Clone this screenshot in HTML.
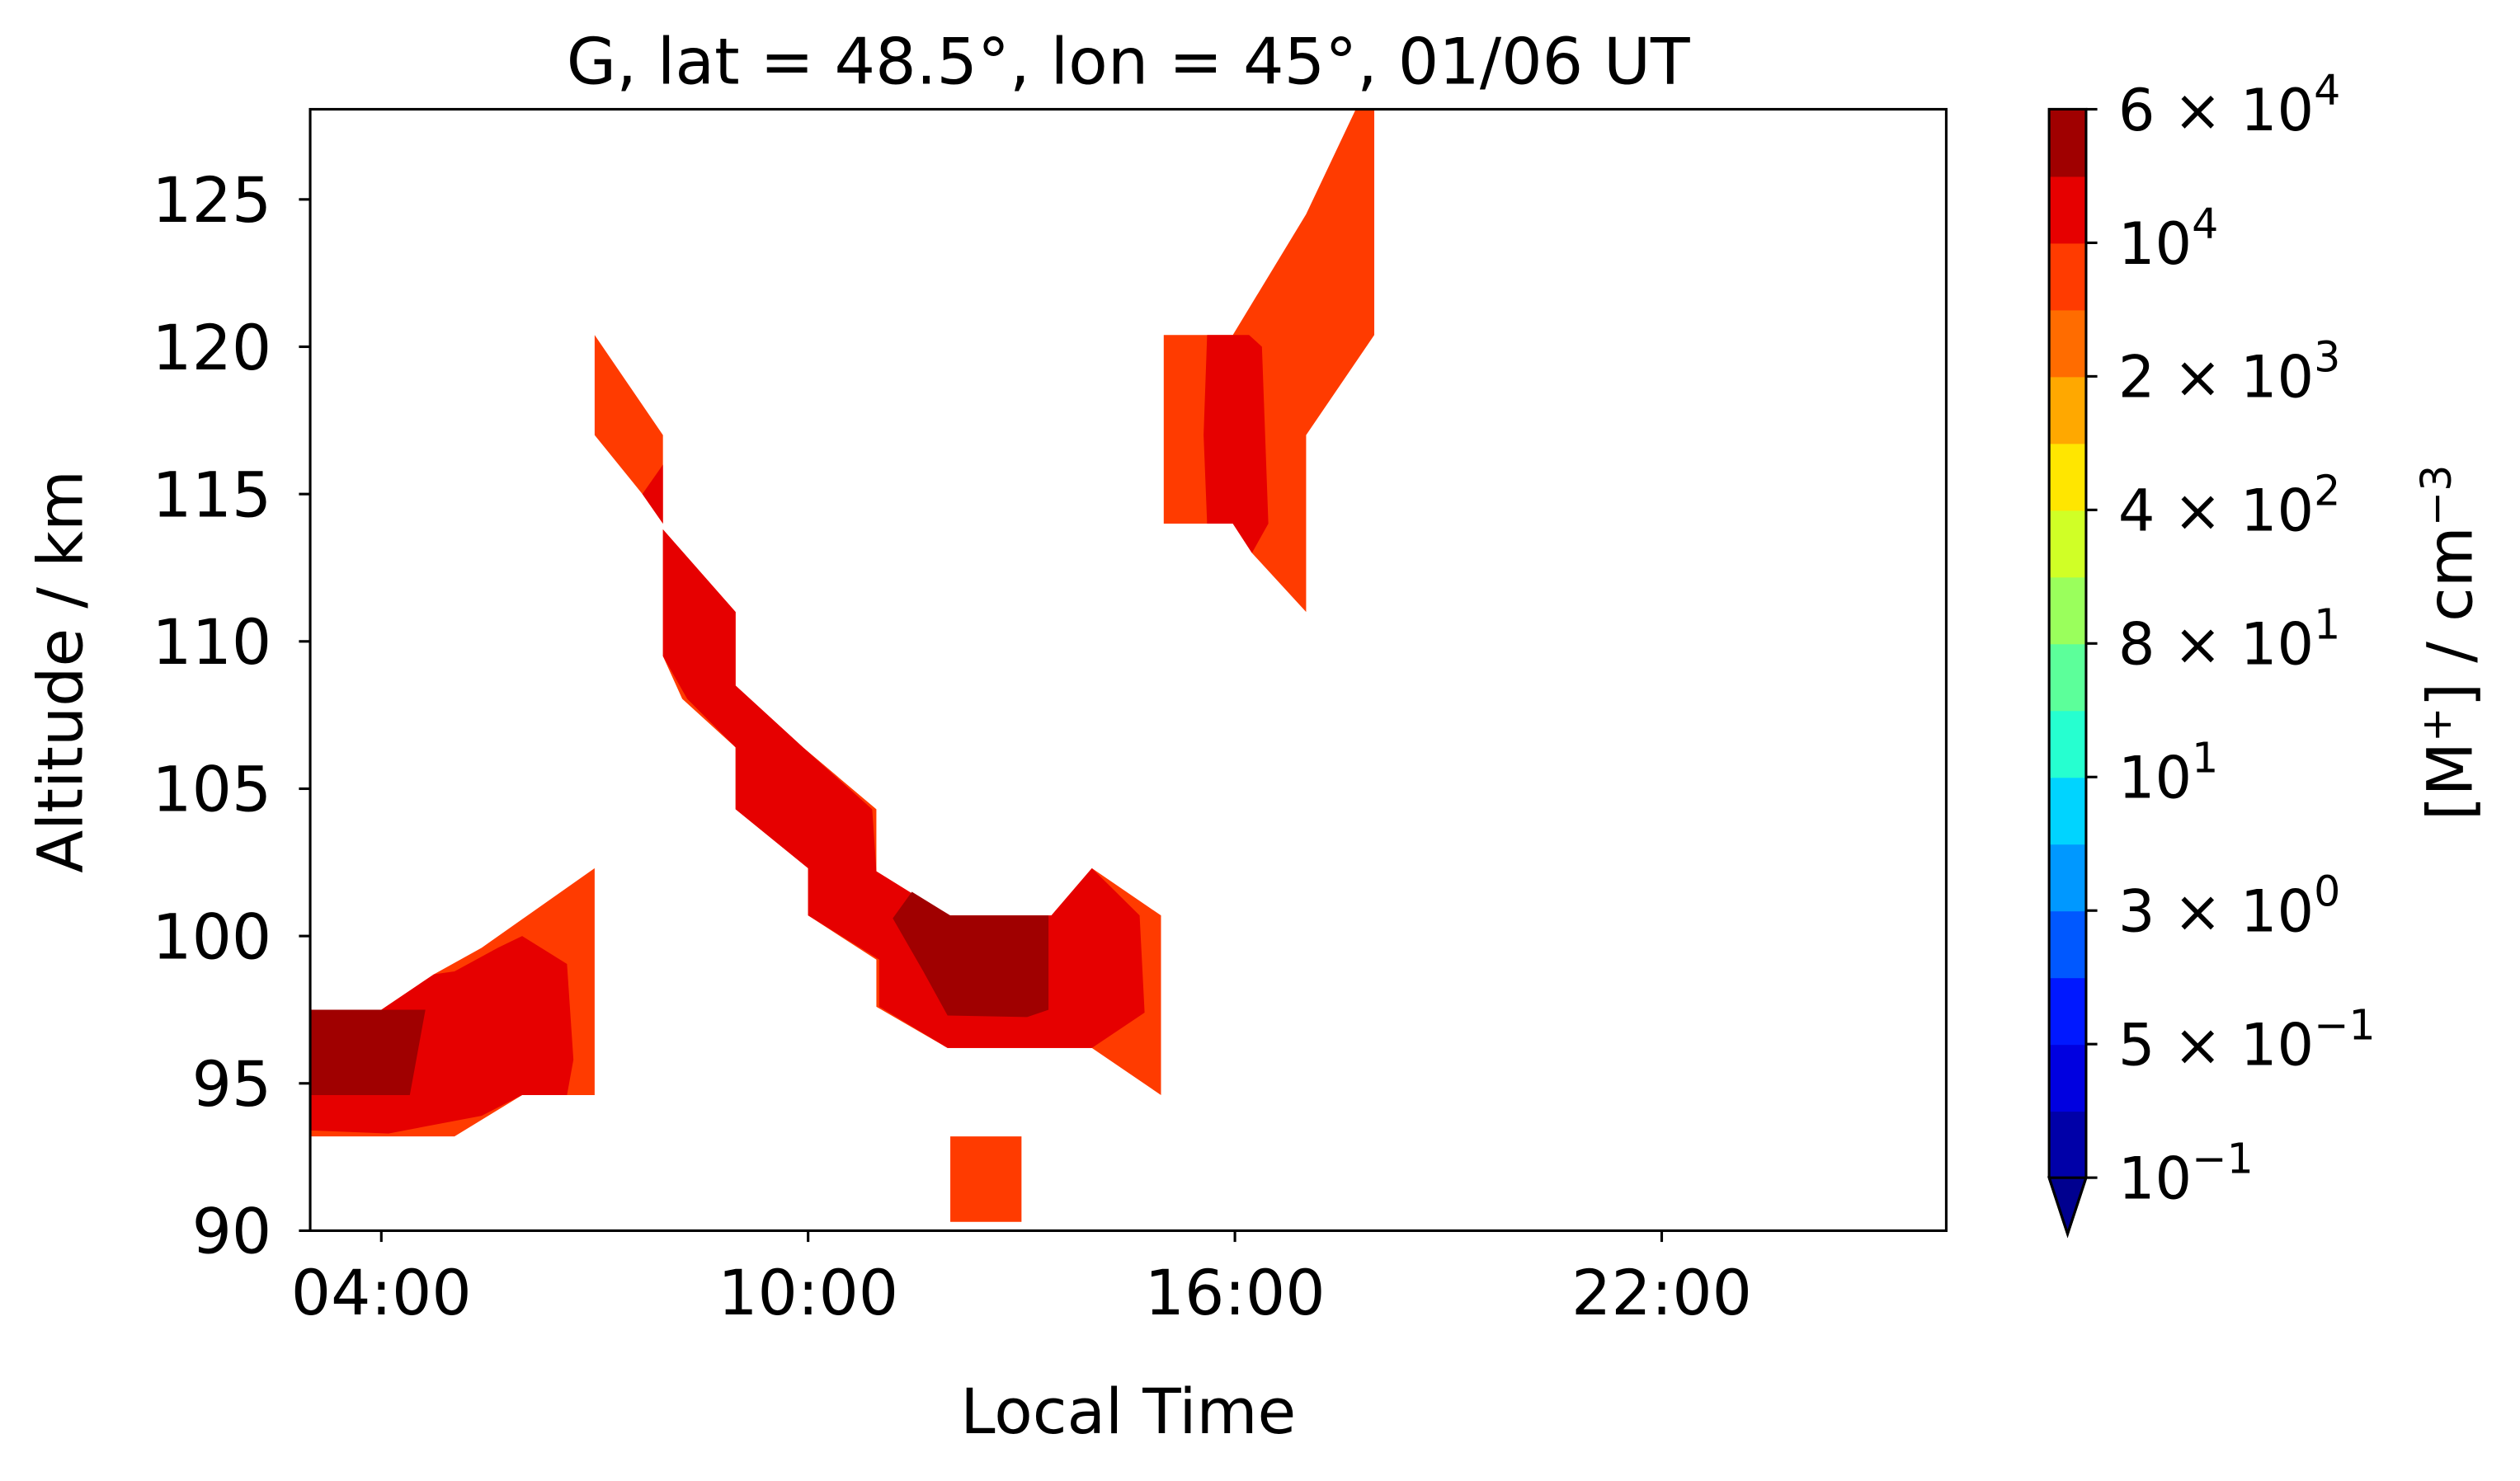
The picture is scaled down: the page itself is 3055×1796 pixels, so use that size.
<!DOCTYPE html>
<html><head><meta charset="utf-8"><style>html,body{margin:0;padding:0;background:#fff}svg{display:block}text{font-family:"DejaVu Sans","Liberation Sans",sans-serif;fill:#000}</style></head>
<body>
<svg id="chart" width="3055" height="1796" viewBox="0 0 1568 921.8" preserveAspectRatio="none" xmlns="http://www.w3.org/2000/svg">
<g id="plot"></g>
<g id="axes"></g>
<g id="cbar"></g>
</svg>
<script>
const xTicks = [4, 10, 16, 22];
const xTickLabels = ["04:00", "10:00", "16:00", "22:00"];
const yTicks = [90, 95, 100, 105, 110, 115, 120, 125];
const levelColors = ["#a00000", "#e60000", "#ff3b00"];
// contour polygons [hour, km]
const orangePolys = [
  [[3,97.5],[4,97.5],[4.74,98.7],[5.41,99.6],[7,102.3],[7,94.6],[5.98,94.6],[5.03,93.2],[3,93.2]],
  [[7,120.4],[7.96,117],[7.96,114],[7.67,115],[7,117]],
  [[7.96,113.8],[8.98,111],[8.98,108.5],[9.93,106.4],[10.96,104.3],[10.96,102.2],[11.96,100.7],[13.42,100.7],[13.99,102.3],[14.96,100.7],[14.96,94.6],[13.99,96.2],[11.96,96.2],[10.96,97.6],[10.96,99.2],[10,100.7],[10,102.3],[8.98,104.3],[8.98,106.4],[8.23,108.05],[7.96,109.5]],
  [[12,93.2],[13,93.2],[13,90.3],[12,90.3]],
  [[15,120.4],[15.97,120.4],[17.0,124.5],[17.7,128.06],[17.96,128.06],[17.96,120.4],[17,117],[17,111],[16.24,113],[15.97,114],[15,114]]
];
const redPolys = [
  [[3,97.5],[4,97.5],[4.74,98.7],[5.03,98.8],[5.64,99.6],[5.98,100],[6.61,99.05],[6.7,95.8],[6.61,94.6],[5.98,94.6],[5.41,93.9],[4.1,93.3],[3,93.4]],
  [[7.67,115],[7.96,116],[7.96,114]],
  [[7.96,113.8],[8.98,111],[8.98,108.5],[9.93,106.4],[10.9,104.3],[10.96,102.2],[11.96,100.7],[13.42,100.7],[13.99,102.3],[14.66,100.7],[14.73,97.4],[13.99,96.2],[11.96,96.2],[11.0,97.6],[11.0,99.2],[10,100.7],[10,102.3],[8.98,104.3],[8.98,106.4],[8.3,108.05],[7.96,109.5]],
  [[15.61,120.4],[16.2,120.4],[16.38,120],[16.47,114],[16.24,113],[15.97,114],[15.61,114],[15.56,117]]
];
const darkPolys = [
  [[3,97.5],[4.62,97.5],[4.4,94.6],[3,94.6]],
  [[11.19,100.6],[11.46,101.5],[12.0,100.7],[13.38,100.7],[13.38,97.5],[13.08,97.25],[11.96,97.3],[11.62,98.8]]
];
const cbarColors = ["#0000a8","#0000e0","#0018ff","#0058ff","#0098ff","#00d4ff","#26ffd0","#5cff9a","#9aff5c","#d0ff26","#ffe600","#ffa800","#ff6c00","#ff3b00","#e60000","#a00000"];
const cbarTickLabels = ["10<tspan dy='-16' font-size='26'>−1</tspan>","5 × 10<tspan dy='-16' font-size='26'>−1</tspan>","3 × 10<tspan dy='-16' font-size='26'>0</tspan>","10<tspan dy='-16' font-size='26'>1</tspan>","8 × 10<tspan dy='-16' font-size='26'>1</tspan>","4 × 10<tspan dy='-16' font-size='26'>2</tspan>","2 × 10<tspan dy='-16' font-size='26'>3</tspan>","10<tspan dy='-16' font-size='26'>4</tspan>","6 × 10<tspan dy='-16' font-size='26'>4</tspan>"];

const L=193,R=1211,T=68,B=766, X0=3,X1=26, Y0=90,Y1=128.06;
const sx=h=>L+(h-X0)/(X1-X0)*(R-L);
const sy=k=>B-(k-Y0)/(Y1-Y0)*(B-T);
const NS="http://www.w3.org/2000/svg";
function mk(tag,attrs,parent){const e=document.createElementNS(NS,tag);for(const k in attrs)e.setAttribute(k,attrs[k]);parent.appendChild(e);return e;}
const plot=document.getElementById('plot'), axes=document.getElementById('axes'), cb=document.getElementById('cbar');
[[orangePolys,2,'contour-orange'],[redPolys,1,'contour-red'],[darkPolys,0,'contour-darkred']].forEach(([polys,ci,name])=>{
  polys.forEach(p=>{
    const e=mk('polygon',{points:p.map(v=>sx(v[0]).toFixed(1)+','+sy(v[1]).toFixed(1)).join(' '),fill:levelColors[ci]},plot);
    
    
  });
});
const frame=mk('rect',{x:L,y:T,width:R-L,height:B-T,fill:'none',stroke:'#000','stroke-width':1.6},axes);


xTicks.forEach((t,i)=>{
  mk('line',{x1:sx(t),x2:sx(t),y1:B,y2:B+7,stroke:'#000','stroke-width':1.6},axes);
  const tx=mk('text',{x:sx(t),y:B+52,'font-size':39,'text-anchor':'middle'},axes);
  tx.textContent=xTickLabels[i];
  
  
});
yTicks.forEach(t=>{
  mk('line',{x1:L-7,x2:L,y1:sy(t),y2:sy(t),stroke:'#000','stroke-width':1.6},axes);
  const tx=mk('text',{x:L-24,y:sy(t)+14,'font-size':39,'text-anchor':'end'},axes);
  tx.textContent=t;
  
  
});
let t1=mk('text',{x:702,y:52,'font-size':40,'text-anchor':'middle'},axes);t1.textContent='G, lat = 48.5°, lon = 45°, 01/06 UT';


let t2=mk('text',{x:702,y:892,'font-size':39,'text-anchor':'middle'},axes);t2.textContent='Local Time';


let t3=mk('text',{x:0,y:0,'font-size':39,'text-anchor':'middle',transform:'translate(51,418) rotate(-90)'},axes);t3.textContent='Altitude / km';


// colorbar
const CL=1275,CR=1298,CT=68,CB=733;
const bh=(CB-CT)/cbarColors.length;
cbarColors.forEach((c,i)=>{
  const e=mk('rect',{x:CL,y:CB-(i+1)*bh,width:CR-CL,height:bh+0.5,fill:c},cb);
  
  
});
const tri=mk('polygon',{points:`${CL},${CB} ${CR},${CB} ${(CL+CR)/2},768`,fill:'#00008f',stroke:'#000','stroke-width':1.6},cb);


mk('polygon',{points:`${CL},${CT} ${CR},${CT} ${CR},${CB} ${(CL+CR)/2},768 ${CL},${CB}`,fill:'none',stroke:'#000','stroke-width':1.6},cb);
cbarTickLabels.forEach((lab,i)=>{
  const y=CB-i*(CB-CT)/(cbarTickLabels.length-1);
  mk('line',{x1:CR,x2:CR+7,y1:y,y2:y,stroke:'#000','stroke-width':1.6},cb);
  const tx=mk('text',{x:CR+20,y:y+13,'font-size':36},cb);
  tx.innerHTML=lab;
  
  
});
let t4=mk('text',{x:0,y:0,'font-size':39,'text-anchor':'middle',transform:'translate(1538,400) rotate(-90)'},cb);t4.innerHTML='[M<tspan dy="-13" font-size="26">+</tspan><tspan dy="13">] / cm</tspan><tspan dy="-13" font-size="26">−3</tspan>';


</script>
</body></html>
